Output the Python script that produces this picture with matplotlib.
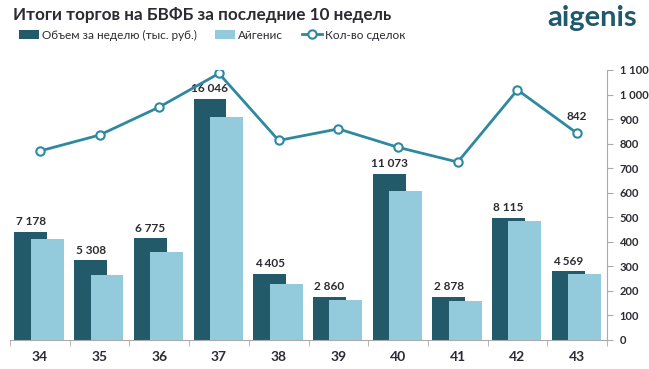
import matplotlib.pyplot as plt
import numpy as np

# Data
weeks = ["34", "35", "36", "37", "38", "39", "40", "41", "42", "43"]
volume = [7178, 5308, 6775, 16046, 4405, 2860, 11073, 2878, 8115, 4569]
aigenis = [6730, 4330, 5870, 14870, 3730, 2670, 9930, 2600, 7930, 4400]
deals = [770, 835, 949, 1086, 813, 860, 785, 725, 1019, 842]

dark = "#225a6a"
light = "#93cbdc"
line_c = "#2e89a0"
txt = "#2b2b33"

plt.rcParams['font.family'] = ['Lato', 'DejaVu Sans']

fig = plt.figure(figsize=(6.49, 3.69), dpi=100)
ax = fig.add_axes([10 / 649, 1 - 340 / 369, 597 / 649, 270 / 369])
ax2 = ax.twinx()

x = np.arange(len(weeks))
bw = 0.55
ax.bar(x - 0.15, volume, width=bw, color=dark, zorder=2, label="Объем за неделю (тыс. руб.)")
ax.bar(x + 0.125, aigenis, width=bw, color=light, zorder=3, label="Айгенис")
for xi, v in zip(x, volume):
    ax.annotate(f"{v:,}".replace(",", " "), (xi - 0.15, v), xytext=(0, 3.5),
                textcoords="offset points", ha="center", va="bottom",
                fontsize=8.5, fontweight="bold", color=txt)

ax.set_xlim(-0.5, len(weeks) - 0.5)
ax.set_ylim(0, 18000)
ax.set_yticks([])
ax.set_xticks(x)
ax.set_xticklabels(weeks, fontsize=10, fontweight="bold", color=txt)
ax.tick_params(axis="x", length=0, pad=8)
ax.set_xticks(np.arange(len(weeks) + 1) - 0.5, minor=True)
ax.tick_params(axis="x", which="minor", length=4, color="#aaaaaa")
for s in ["top", "left", "right"]:
    ax.spines[s].set_visible(False)
ax.spines["bottom"].set_color("#aaaaaa")

ax2.plot(x, deals, color=line_c, lw=2, marker="o", ms=6, mfc="white",
         mec=line_c, mew=1.5, zorder=5, label="Кол-во сделок")
ax2.annotate(str(deals[-1]), (x[-1], deals[-1]), xytext=(0, 8),
             textcoords="offset points", ha="center", va="bottom",
             fontsize=8.5, fontweight="bold", color=txt)
ax2.set_ylim(0, 1100)
ax2.set_yticks(range(0, 1101, 100))
ax2.set_yticklabels([f"{t:,}".replace(",", " ") for t in range(0, 1101, 100)],
                    fontsize=8, fontweight="bold", color=txt)
ax2.tick_params(axis="y", length=4, color="#aaaaaa", pad=5)
for s in ["top", "left", "bottom"]:
    ax2.spines[s].set_visible(False)
ax2.spines["right"].set_color("#aaaaaa")
ax.set_zorder(ax2.get_zorder() - 1)
ax2.patch.set_visible(False)

fig.text(13 / 649, 1 - 15 / 369, "Итоги торгов на БВФБ за последние 10 недель",
         fontsize=12.3, fontweight="bold", color=txt, va="center")
fig.text(637 / 649, 1 - 18 / 369, "aigenis", fontsize=21, fontweight="bold",
         color="#1f5a6c", ha="right", va="center")

h1, l1 = ax.get_legend_handles_labels()
h2, l2 = ax2.get_legend_handles_labels()
fig.legend(h1 + h2, l1 + l2, loc="center left", bbox_to_anchor=(8 / 649, 1 - 35 / 369),
           ncol=3, frameon=False, fontsize=8.5, handlelength=1.7, handleheight=0.7,
           handletextpad=0.25, columnspacing=1.6, labelcolor=txt)

fig.savefig("out.png", dpi=100)
